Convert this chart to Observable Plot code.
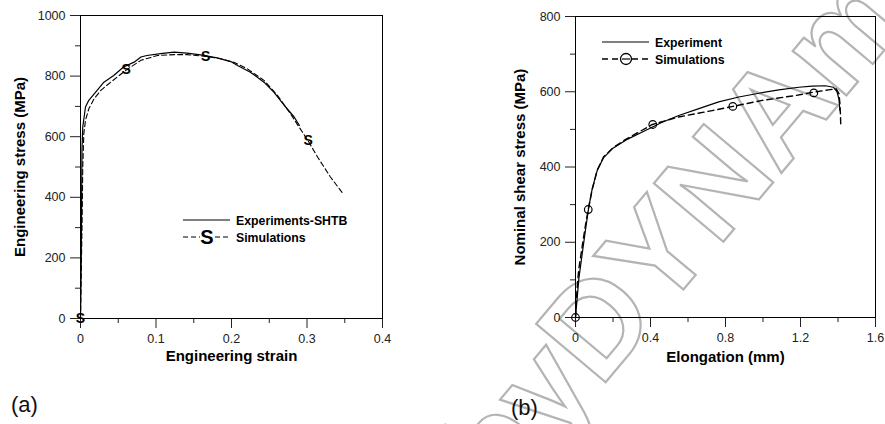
<!DOCTYPE html>
<html>
<head>
<meta charset="utf-8">
<script src="https://cdn.jsdelivr.net/npm/d3@7"></script>
<script src="https://cdn.jsdelivr.net/npm/@observablehq/plot@0.6"></script>
<style>
  html, body { margin: 0; padding: 0; background: #fff; }
  #wrap { position: relative; width: 885px; height: 424px; overflow: hidden; background: #fff;
          font-family: "Liberation Sans", Arial, Helvetica, sans-serif; }
  .panel { position: absolute; top: 0; }
  .panel svg { overflow: visible; }
  .lab { position: absolute; font-size: 22px; color: #111; line-height: 1; }
  .leg { position: absolute; }
  #wm { position: absolute; left: 0; top: 0; }
</style>
</head>
<body>
<div id="wrap">
  <svg id="wm" width="885" height="424">
    <text transform="translate(600,389) rotate(-50)" font-family="Liberation Sans, Arial, sans-serif"
          font-weight="bold" font-size="132" fill="none" stroke="#b4b4b4" stroke-width="2.2" text-anchor="end">by </text>
    <text transform="translate(600,389) rotate(-50)" font-family="Liberation Sans, Arial, sans-serif"
          font-weight="bold" font-size="132" fill="none" stroke="#b4b4b4" stroke-width="2.2">DYNAmore</text>
  </svg>
  <div id="pa" class="panel" style="left:0px"></div>
  <div id="pb" class="panel" style="left:445px"></div>
  <div class="lab" style="left:11px; top:394px">(a)</div>
  <div class="lab" style="left:511px; top:397px">(b)</div>
  <svg class="leg" width="885" height="424" style="left:0;top:0">
    <g font-family="Liberation Sans, Arial, sans-serif" font-weight="bold" font-size="12.3" fill="#000">
      <line x1="183" x2="230" y1="220" y2="220" stroke="#000" stroke-width="1.1"/>
      <text x="236" y="224.5">Experiments-SHTB</text>
      <line x1="183" x2="230" y1="237" y2="237" stroke="#000" stroke-width="1.1" stroke-dasharray="5,3"/>
      <rect x="200" y="228" width="14" height="18" fill="#fff"/>
      <text x="207" y="244" text-anchor="middle" font-size="20">S</text>
      <text x="236" y="241.5">Simulations</text>

      <line x1="602" x2="649" y1="42" y2="42" stroke="#000" stroke-width="1.1"/>
      <text x="655" y="46.5">Experiment</text>
      <line x1="602" x2="649" y1="59" y2="59" stroke="#000" stroke-width="1.4" stroke-dasharray="6,4"/>
      <circle cx="626" cy="59" r="5.5" fill="#fff" stroke="#000" stroke-width="1.3"/>
      <line x1="622" x2="630" y1="59" y2="59" stroke="#000" stroke-width="1.2"/>
      <text x="655" y="63.5">Simulations</text>
    </g>
  </svg>
</div>
<script>
// ---------- Panel (a): engineering stress-strain ----------
const xTicksA = [0, 0.1, 0.2, 0.3, 0.4];
const xMinorA = [0.05, 0.15, 0.25, 0.35];
const yTicksA = [0, 200, 400, 600, 800, 1000];
const yMinorA = [100, 300, 500, 700, 900];
const xTitleA = "Engineering strain";
const yTitleA = "Engineering stress (MPa)";

const strainExpA = [0, 0.001, 0.0015, 0.002, 0.003, 0.0066, 0.011, 0.022, 0.031, 0.044, 0.057, 0.071, 0.080, 0.088, 0.106, 0.124, 0.141, 0.159, 0.181, 0.199, 0.208, 0.225, 0.243, 0.256, 0.270, 0.283, 0.290];
const stressExpA = [0, 200, 400, 560, 632, 698, 720, 753, 780, 802, 830, 846, 863, 868, 874, 879, 876, 870, 860, 848, 835, 813, 780, 747, 703, 665, 637];

const strainSimA = [0, 0.001, 0.002, 0.003, 0.0044, 0.0066, 0.011, 0.018, 0.027, 0.040, 0.060, 0.080, 0.102, 0.124, 0.141, 0.166, 0.186, 0.203, 0.221, 0.243, 0.261, 0.278, 0.301, 0.314, 0.331, 0.347];
const stressSimA = [0, 150, 300, 500, 610, 654, 692, 725, 753, 780, 819, 852, 868, 871, 871, 865, 857, 846, 824, 786, 736, 676, 588, 533, 467, 414];

const strainMarkA = [0, 0.0606, 0.1657, 0.3014];
const stressMarkA = [0, 821, 865, 587];

// ---------- Panel (b): nominal shear stress vs elongation ----------
const xTicksB = [0, 0.4, 0.8, 1.2, 1.6];
const xMinorB = [0.2, 0.6, 1.0, 1.4];
const yTicksB = [0, 200, 400, 600, 800];
const yMinorB = [100, 300, 500, 700];
const xTitleB = "Elongation (mm)";
const yTitleB = "Nominal shear stress (MPa)";

const elongExpB = [0, 0.018, 0.036, 0.053, 0.071, 0.089, 0.116, 0.15, 0.2, 0.27, 0.373, 0.462, 0.551, 0.658, 0.764, 0.871, 0.978, 1.084, 1.191, 1.262, 1.333, 1.375, 1.395, 1.405, 1.41];
const shearExpB = [0, 104, 170, 232, 294, 342, 391, 425, 450, 472, 497, 519, 537, 555, 573, 586, 596, 605, 612, 615, 616, 612, 600, 580, 550];

const elongSimB = [0, 0.005, 0.012, 0.018, 0.036, 0.053, 0.068, 0.089, 0.116, 0.15, 0.2, 0.27, 0.41, 0.551, 0.729, 0.839, 0.996, 1.173, 1.271, 1.35, 1.39, 1.405, 1.41, 1.413, 1.415];
const shearSimB = [0, 50, 100, 130, 190, 245, 287, 340, 392, 427, 451, 474, 513, 533, 550, 561, 577, 590, 599, 605, 608, 595, 570, 540, 506];

const elongMarkB = [0, 0.068, 0.412, 0.839, 1.271];
const shearMarkB = [0, 287, 513, 561, 597];

const rows = (xs, ys) => xs.map((x, i) => ({x, y: ys[i]}));
const fmt = d => String(d);
const style = {fontFamily: "Liberation Sans, Arial, Helvetica, sans-serif", fontSize: "12.5px", color: "#222", background: "transparent", overflow: "visible"};
const titleX = (t, dy) => Plot.text([t], {frameAnchor: "bottom", dy, text: d => d, textAnchor: "middle", lineAnchor: "middle", fontWeight: "bold", fontSize: 15, fill: "#000"});
const titleY = (t, dx) => Plot.text([t], {frameAnchor: "left", dx, rotate: -90, text: d => d, textAnchor: "middle", lineAnchor: "middle", fontWeight: "bold", fontSize: 15, fill: "#000"});

const plotA = Plot.plot({
  width: 440, height: 370,
  marginLeft: 80, marginRight: 58, marginTop: 15, marginBottom: 52,
  style,
  x: {domain: [0, 0.4]},
  y: {domain: [0, 1000]},
  marks: [
    Plot.axisY({ticks: yTicksA, tickSize: 10, tickPadding: 5, tickFormat: fmt, label: null}),
    Plot.axisY({ticks: yMinorA, tickSize: 5, text: null, label: null}),
    Plot.axisX({ticks: xTicksA, tickSize: 10, tickPadding: 6, tickFormat: fmt, label: null}),
    Plot.axisX({ticks: xMinorA, tickSize: 5, text: null, label: null}),
    titleX(xTitleA, 38),
    titleY(yTitleA, -60),
    Plot.frame({stroke: "#000", strokeWidth: 1}),
    Plot.line(rows(strainSimA, stressSimA), {x: "x", y: "y", stroke: "#000", strokeWidth: 1.1, strokeDasharray: "5,3"}),
    Plot.line(rows(strainExpA, stressExpA), {x: "x", y: "y", stroke: "#000", strokeWidth: 1.2}),
    Plot.text(rows(strainMarkA, stressMarkA), {x: "x", y: "y", text: () => "S", fontWeight: "bold", fontSize: 14, fill: "#000"})
  ]
});
document.getElementById("pa").append(plotA);

const plotB = Plot.plot({
  width: 440, height: 370,
  marginLeft: 130, marginRight: 10, marginTop: 16, marginBottom: 53,
  style,
  x: {domain: [0, 1.6]},
  y: {domain: [0, 800]},
  marks: [
    Plot.axisY({ticks: yTicksB, tickSize: 10, tickPadding: 5, tickFormat: fmt, label: null}),
    Plot.axisY({ticks: yMinorB, tickSize: 5, text: null, label: null}),
    Plot.axisX({ticks: xTicksB, tickSize: 10, tickPadding: 6, tickFormat: fmt, label: null}),
    Plot.axisX({ticks: xMinorB, tickSize: 5, text: null, label: null}),
    titleX(xTitleB, 40),
    titleY(yTitleB, -55),
    Plot.frame({stroke: "#000", strokeWidth: 1}),
    Plot.line(rows(elongExpB, shearExpB), {x: "x", y: "y", stroke: "#000", strokeWidth: 1.2}),
    Plot.line(rows(elongSimB, shearSimB), {x: "x", y: "y", stroke: "#000", strokeWidth: 1.4, strokeDasharray: "6,4"}),
    Plot.dot(rows(elongMarkB, shearMarkB), {x: "x", y: "y", r: 3.8, stroke: "#000", strokeWidth: 1.2, fill: "none"})
  ]
});
document.getElementById("pb").append(plotB);
</script>
</body>
</html>
